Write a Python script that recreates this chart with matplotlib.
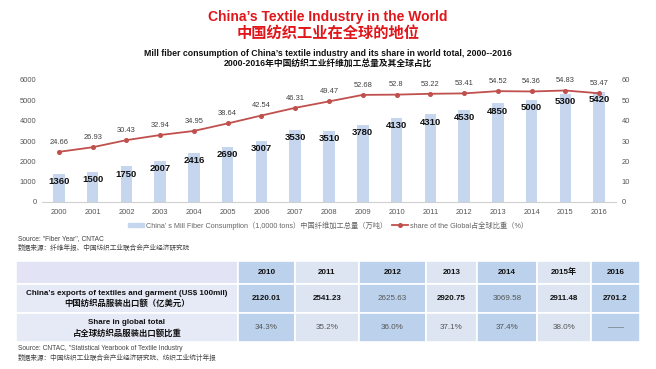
import numpy as np
import matplotlib
matplotlib.use("Agg")
import matplotlib.pyplot as plt
from matplotlib.patches import Rectangle
from matplotlib.lines import Line2D
from matplotlib.patches import Patch

plt.rcParams['font.family'] = ['Liberation Sans', 'Noto Sans CJK SC', 'DejaVu Sans']

# --- data: fibre consumption chart ---
years = [str(y) for y in range(2000, 2017)]
fiber = [1360, 1500, 1750, 2007, 2416, 2690, 3007, 3530, 3510, 3780,
         4130, 4310, 4530, 4850, 5000, 5300, 5420]
share = [24.66, 26.93, 30.43, 32.94, 34.95, 38.64, 42.54, 46.31, 49.47, 52.68,
         52.8, 53.22, 53.41, 54.52, 54.36, 54.83, 53.47]
share_lbl = ['24.66', '26.93', '30.43', '32.94', '34.95', '38.64', '42.54', '46.31',
             '49.47', '52.68', '52.8', '53.22', '53.41', '54.52', '54.36', '54.83', '53.47']

# --- data: export table ---
tbl_years = ['2010', '2011', '2012', '2013', '2014', '2015年', '2016']
exports = ['2120.01', '2541.23', '2625.63', '2920.75', '3069.58', '2911.48', '2701.2']
exports_bold = [True, True, False, True, False, True, True]
glob_share = ['34.3%', '35.2%', '36.0%', '37.1%', '37.4%', '38.0%', '——']

W, H = 656, 369
fig = plt.figure(figsize=(W / 100, H / 100), dpi=100)
fig.patch.set_facecolor('white')

# titles
fig.text(0.5, 1 - 17 / H, 'China’s Textile Industry in the World', ha='center', va='center',
         color='#e0161b', fontsize=10, fontweight='bold')
fig.text(0.5, 1 - 33 / H, '中国纺织工业在全球的地位', ha='center', va='center',
         color='#e0161b', fontsize=11, fontweight='bold')
fig.text(0.5, 1 - 53 / H, 'Mill fiber consumption of China’s textile industry and its share in world total, 2000--2016',
         ha='center', va='center', fontsize=6.3, fontweight='bold', color='#111111')
fig.text(0.5, 1 - 63.5 / H, '2000-2016年中国纺织工业纤维加工总量及其全球占比',
         ha='center', va='center', fontsize=6.3, fontweight='bold', color='#111111')

# --- chart ---
ax = fig.add_axes([42 / W, 1 - 202 / H, (616 - 42) / W, (202 - 80) / H])
x = np.arange(len(years))
bar_c = '#c5d6ee'
line_c = '#c0504d'
ax.bar(x, fiber, width=0.34, color=bar_c, zorder=2)
ax.set_xlim(-0.5, len(years) - 0.5)
ax.set_ylim(0, 6000)
ax.set_yticks(range(0, 6001, 1000))
ax.set_xticks(x)
ax.set_xticklabels(years)
for v, xi in zip(fiber, x):
    ax.annotate(str(v), (xi, v), xytext=(0, -5.5), textcoords='offset points',
                ha='center', va='center', fontsize=6.8, fontweight='bold', color='#111111', zorder=5)

ax2 = ax.twinx()
ax2.plot(x, share, color=line_c, lw=1.3, marker='o', ms=2.6, zorder=4)
ax2.set_ylim(0, 60)
ax2.set_yticks(range(0, 61, 10))
for v, s, xi in zip(share, share_lbl, x):
    ax2.annotate(s, (xi, v), xytext=(0, 7), textcoords='offset points',
                 ha='center', va='center', fontsize=5.4, color='#404040')

for a in (ax, ax2):
    for sp in a.spines.values():
        sp.set_visible(False)
    a.tick_params(length=0, labelsize=5.4, labelcolor='#555555', pad=4)
ax.spines['bottom'].set_visible(True)
ax.spines['bottom'].set_color('#d0d0d0')
ax.spines['bottom'].set_linewidth(0.8)
ax.tick_params(axis='x', pad=5)

handles = [Patch(color=bar_c), Line2D([0], [0], color=line_c, lw=1.3, marker='o', ms=2.6)]
labels = ['China’ s Mill Fiber Consumption（1,0000 tons）中国纤维加工总量（万吨）',
          'share of the Global占全球比重（%）']
fig.legend(handles, labels, loc='center', bbox_to_anchor=(0.5, 1 - 225.5 / H), ncol=2,
           frameon=False, fontsize=5.2, labelcolor='#666666', handlelength=2.2,
           handleheight=0.6, handletextpad=0.3, columnspacing=0.6)

fig.text(18 / W, 1 - 239 / H, 'Source: "Fiber Year", CNTAC', fontsize=4.8, color='#444444', va='center')
fig.text(18 / W, 1 - 248 / H, '数据来源：纤维年报、中国纺织工业联合会产业经济研究院', fontsize=4.8,
         color='#444444', va='center')

# --- table ---
tx = fig.add_axes([0, 0, 1, 1])
tx.set_xlim(0, W)
tx.set_ylim(H, 0)
tx.axis('off')
tx.patch.set_alpha(0)
col_edges = [16, 238, 295, 359, 426, 477, 537, 591, 640]
row_edges = [261, 284, 313, 342]
dark, light = '#bcd2ec', '#dde5f3'
for r in range(3):
    y0, y1 = row_edges[r], row_edges[r + 1]
    for c in range(len(col_edges) - 1):
        x0, x1 = col_edges[c], col_edges[c + 1]
        if c == 0:
            fc = '#e2e4f5' if r == 0 else '#e6eaf6'
        else:
            fc = dark if c % 2 == 1 else light
        tx.add_patch(Rectangle((x0, y0), x1 - x0, y1 - y0, facecolor=fc,
                               edgecolor='white', lw=1.2))

def cx(c):
    return (col_edges[c] + col_edges[c + 1]) / 2

def cy(r):
    return (row_edges[r] + row_edges[r + 1]) / 2

for i, yr in enumerate(tbl_years):
    tx.text(cx(i + 1), cy(0), yr, ha='center', va='center', fontsize=5.8,
            fontweight='bold', color='#111111')
    tx.text(cx(i + 1), cy(1), exports[i], ha='center', va='center', fontsize=5.8,
            fontweight='bold' if exports_bold[i] else 'normal',
            color='#111111' if exports_bold[i] else '#555555')
    tx.text(cx(i + 1), cy(2), glob_share[i], ha='center', va='center', fontsize=5.8,
            color='#555555')

tx.text(cx(0), cy(1) - 5, r'China’s exports of textiles and garment (US\$ 100mil)', ha='center',
        va='center', fontsize=5.8, fontweight='bold', color='#111111')
tx.text(cx(0), cy(1) + 5.5, '中国纺织品服装出口额（亿美元）', ha='center',
        va='center', fontsize=6, fontweight='bold', color='#111111')
tx.text(cx(0), cy(2) - 5, 'Share in global total', ha='center',
        va='center', fontsize=5.8, fontweight='bold', color='#111111')
tx.text(cx(0), cy(2) + 5.5, '占全球纺织品服装出口额比重', ha='center',
        va='center', fontsize=6, fontweight='bold', color='#111111')

tx.text(18, 349, 'Source: CNTAC, "Statistical Yearbook of Textile Industry', fontsize=4.8,
        color='#444444', va='center')
tx.text(18, 358, '数据来源：中国纺织工业联合会产业经济研究院、纺织工业统计年报', fontsize=4.8,
        color='#444444', va='center')

fig.savefig('out.png', dpi=100)
